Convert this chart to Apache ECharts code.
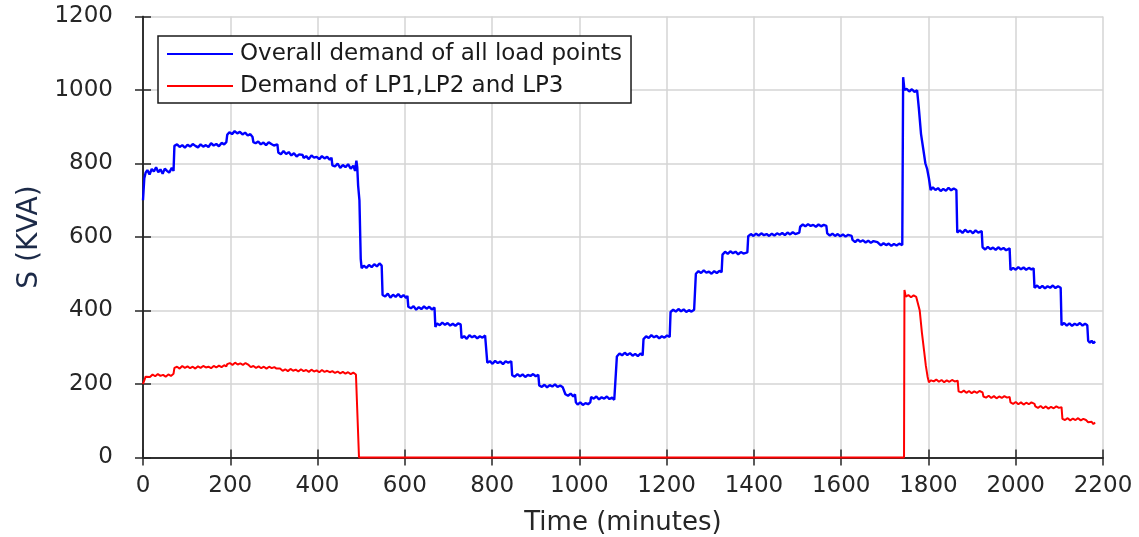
<!DOCTYPE html>
<html>
<head>
<meta charset="utf-8">
<script src="https://cdn.jsdelivr.net/npm/echarts@6/dist/echarts.min.js"></script>
<style>html,body{margin:0;padding:0;background:#fff}#c{width:1139px;height:537px}</style>
</head>
<body>
<div id="c"></div>
<script>
// ---------- data ----------
const xTicks = [0,200,400,600,800,1000,1200,1400,1600,1800,2000,2200];
const yTicks = [0,200,400,600,800,1000,1200];
const seriesNames = ['Overall demand of all load points', 'Demand of LP1,LP2 and LP3'];

// [minute, kVA]
const overallDemand = [
[0,700],[3,760],[6,775],[10,782],[15,770],[20,785],[25,778],[30,790],[35,776],[40,784],[45,772],[50,786],[55,780],[60,775],[66,788],[70,780],
[72,848],[78,852],[84,845],[90,850],[96,843],[102,851],[108,846],[114,853],[120,848],[126,844],[132,852],[138,846],[144,850],[150,845],[156,855],[162,849],[168,853],[174,847],[180,856],[186,852],[191,858],
[193,878],[198,885],[204,880],[210,888],[216,882],[222,886],[228,879],[234,884],[240,876],[246,880],[251,872],
[253,858],[258,855],[264,860],[270,852],[276,857],[282,850],[288,858],[294,853],[300,849],[308,852],
[310,830],[316,825],[322,834],[328,826],[334,831],[340,822],[346,828],[352,819],[358,825],[366,823],
[368,815],[374,820],[380,812],[386,822],[392,816],[398,818],[404,812],[410,820],[416,814],[422,818],[428,810],[432,816],
[434,795],[440,792],[446,800],[452,788],[458,796],[464,790],[470,798],[476,786],[482,794],[486,780],[489,808],[491,790],
[493,740],[496,700],[499,540],[501,515],
[506,522],[512,516],[518,524],[524,518],[530,526],[536,520],[542,528],[547,522],
[549,442],[555,438],[561,446],[567,435],[573,443],[579,437],[585,445],[591,436],[597,442],[603,434],[606,440],
[608,410],[614,406],[620,412],[626,402],[632,409],[638,404],[644,411],[650,405],[656,410],[662,403],[668,408],
[670,355],[674,365],[680,360],[686,367],[692,361],[698,366],[704,359],[710,364],[716,358],[722,365],[728,362],
[730,325],[736,330],[742,323],[748,333],[754,327],[760,331],[766,324],[772,330],[778,326],[784,332],[787,328],
[789,258],[795,262],[801,255],[807,263],[813,257],[819,261],[825,254],[831,262],[837,258],[844,262],
[846,224],[852,220],[858,227],[864,221],[870,226],[876,219],[882,225],[888,222],[894,227],[900,221],[906,225],
[908,196],[914,192],[920,198],[926,191],[932,197],[938,193],[944,199],[950,192],[956,196],[962,191],[966,195],
[968,172],[974,168],[980,174],[986,166],[990,172],
[992,150],[996,144],[1002,150],[1008,143],[1014,148],[1020,145],[1025,150],
[1027,165],[1033,160],[1039,166],[1045,158],[1051,164],[1057,160],[1063,166],[1069,159],[1075,163],[1080,157],[1084,162],
[1086,275],[1092,283],[1098,278],[1104,285],[1110,279],[1116,284],[1122,277],[1128,282],[1134,276],[1140,283],[1145,278],
[1147,322],[1153,330],[1159,325],[1165,333],[1171,327],[1177,331],[1183,324],[1189,330],[1195,326],[1201,332],[1207,328],
[1209,396],[1215,402],[1221,397],[1227,404],[1233,398],[1239,403],[1245,396],[1251,401],[1257,397],[1263,402],[1266,400],
[1267,500],[1273,507],[1279,502],[1285,509],[1291,503],[1297,506],[1303,500],[1309,507],[1315,502],[1321,508],[1326,504],
[1328,552],[1334,560],[1340,554],[1346,561],[1352,556],[1358,560],[1364,553],[1370,559],[1376,555],[1385,558],
[1387,602],[1393,608],[1399,603],[1405,609],[1411,604],[1417,610],[1423,605],[1429,608],[1435,603],[1441,609],[1447,604],[1453,610],[1459,606],[1465,611],[1471,605],[1477,612],[1483,607],[1489,613],[1495,608],[1504,612],
[1506,628],[1512,634],[1518,629],[1524,635],[1530,630],[1536,633],[1542,628],[1548,634],[1554,629],[1560,633],[1566,630],
[1568,610],[1574,604],[1580,609],[1586,603],[1592,608],[1598,602],[1604,607],[1610,601],[1616,606],[1624,603],
[1626,592],[1632,586],[1638,593],[1644,587],[1650,591],[1656,585],[1662,590],[1668,584],[1674,589],[1683,586],
[1685,582],[1691,577],[1697,583],[1703,578],[1709,582],[1715,576],[1721,581],[1727,577],[1733,582],[1740,578],
[1742,1035],[1745,1000],[1750,1003],[1756,996],[1762,1002],[1768,995],[1774,999],
[1778,950],[1783,880],[1788,840],[1793,800],[1797,785],[1801,760],[1805,728],
[1810,735],[1816,728],[1822,733],[1828,725],[1834,731],[1840,726],[1846,734],[1852,727],[1858,732],[1864,728],
[1866,612],[1872,618],[1878,611],[1884,620],[1890,613],[1896,617],[1902,610],[1908,618],[1914,612],[1922,616],
[1924,572],[1930,566],[1936,573],[1942,567],[1948,571],[1954,565],[1960,572],[1966,566],[1972,570],[1978,564],[1986,569],
[1988,510],[1994,516],[2000,511],[2006,518],[2012,512],[2018,517],[2024,511],[2030,516],[2036,512],[2041,515],
[2043,462],[2049,468],[2055,461],[2061,467],[2067,460],[2073,466],[2079,462],[2085,468],[2091,461],[2097,466],[2103,462],
[2105,360],[2111,366],[2117,359],[2123,365],[2129,358],[2135,364],[2141,360],[2147,366],[2153,359],[2159,364],[2164,360],
[2166,318],[2170,312],[2174,318],[2178,311],[2182,316]
];

const lpDemand = [
[0,200],[3,205],[6,220],[10,224],[16,219],[22,226],[28,221],[34,227],[40,222],[46,225],[52,220],[58,226],[64,222],[70,228],
[72,244],[78,247],[84,242],[90,249],[96,244],[102,248],[108,243],[114,247],[120,242],[126,248],[132,244],[138,249],[144,245],[150,247],[156,243],[162,249],[168,245],[174,250],[180,246],[186,251],[191,248],
[193,254],[199,257],[205,252],[211,258],[217,253],[223,256],[229,252],[235,257],[241,253],[245,255],
[247,246],[253,249],[259,244],[265,248],[271,243],[277,247],[283,242],[289,247],[295,243],[301,246],[306,242],
[308,239],[314,242],[320,236],[326,240],[332,235],[338,241],[344,236],[350,239],[356,234],[362,240],[368,235],[374,238],[380,233],[386,239],[392,234],[398,237],[404,232],[410,238],[416,233],[422,236],[428,232],[434,235],[440,230],[446,234],[452,229],[458,233],[464,228],[470,232],[476,227],[482,231],[488,226],[492,222],
[495,0],[1744,0],
[1745,456],[1748,438],[1754,442],[1760,436],[1766,441],[1772,437],[1776,440],
[1780,400],[1785,340],[1790,290],[1794,250],[1798,220],[1801,205],
[1806,210],[1812,207],[1818,212],[1824,206],[1830,211],[1836,205],[1842,210],[1848,206],[1854,211],[1860,207],[1867,209],
[1869,180],[1875,177],[1881,182],[1887,176],[1893,181],[1899,175],[1905,180],[1911,176],[1917,181],[1924,177],
[1926,166],[1932,163],[1938,168],[1944,162],[1950,167],[1956,161],[1962,166],[1968,162],[1974,167],[1980,163],[1986,165],
[1988,150],[1994,146],[2000,151],[2006,145],[2012,150],[2018,144],[2024,149],[2030,145],[2036,150],[2043,146],
[2045,139],[2051,135],[2057,140],[2063,134],[2069,139],[2075,133],[2081,138],[2087,134],[2093,139],[2099,135],[2105,137],
[2107,105],[2113,102],[2119,107],[2125,101],[2131,106],[2137,102],[2143,107],[2149,101],[2155,105],[2161,102],[2164,104],
[2166,96],[2170,92],[2174,97],[2178,91],[2182,95]
];

// ---------- chart ----------
const FONT = 'DejaVu Sans';
const chart = echarts.init(document.getElementById('c'), null, {renderer: 'canvas'});
const xMin = xTicks[0], xMax = xTicks[xTicks.length-1], xStep = xTicks[1]-xTicks[0];
const yMin = yTicks[0], yMax = yTicks[yTicks.length-1], yStep = yTicks[1]-yTicks[0];
const axisLine = {show: true, lineStyle: {color: '#262626', width: 1.5}};
const tick = {show: true, inside: true, length: 8, lineStyle: {color: '#262626', width: 1.5}};
const plain = v => String(v);
chart.setOption({
  animation: false,
  backgroundColor: '#ffffff',
  grid: {left: 143, right: 36, top: 16.5, bottom: 79.5, containLabel: false, outerBoundsMode: 'none'},
  legend: {
    orient: 'vertical',
    left: 158, top: 36,
    padding: [6, 9, 5, 9],
    itemGap: 8,
    itemWidth: 66, itemHeight: 2,
    icon: 'rect',
    borderColor: '#1a1a1a', borderWidth: 1.5,
    backgroundColor: '#ffffff',
    textStyle: {fontFamily: FONT, fontSize: 23, color: '#1a1a1a', lineHeight: 24, padding: [0,0,0,2]},
    data: seriesNames
  },
  xAxis: [{
    type: 'value', min: xMin, max: xMax, interval: xStep,
    name: 'Time (minutes)', nameLocation: 'middle', nameGap: 53,
    nameTextStyle: {fontFamily: FONT, fontSize: 26, color: '#262626'},
    axisLine: axisLine, axisTick: tick,
    axisLabel: {fontFamily: FONT, fontSize: 23, color: '#262626', margin: 17, formatter: plain},
    splitLine: {show: true, lineStyle: {color: '#d4d4d4', width: 1.5}}
  }, {
    type: 'value', position: 'top', min: xMin, max: xMax, interval: xStep,
    axisLine: axisLine, axisTick: tick, axisLabel: {show: false}, splitLine: {show: false}
  }],
  yAxis: [{
    type: 'value', min: yMin, max: yMax, interval: yStep,
    name: 'S (KVA)', nameLocation: 'middle', nameGap: 98,
    nameTextStyle: {fontFamily: FONT, fontSize: 28, color: '#1c2a48'},
    axisLine: axisLine, axisTick: tick,
    axisLabel: {fontFamily: FONT, fontSize: 23, color: '#262626', margin: 30, formatter: plain},
    splitLine: {show: true, lineStyle: {color: '#d4d4d4', width: 1.5}}
  }, {
    type: 'value', position: 'right', min: yMin, max: yMax, interval: yStep,
    axisLine: axisLine, axisTick: tick, axisLabel: {show: false}, splitLine: {show: false}
  }],
  series: [{
    name: seriesNames[0], type: 'line', data: overallDemand,
    showSymbol: false, symbol: 'none', clip: false, z: 3,
    itemStyle: {color: '#0000ff'},
    lineStyle: {color: '#0000ff', width: 2.4}
  }, {
    name: seriesNames[1], type: 'line', data: lpDemand,
    showSymbol: false, symbol: 'none', clip: false, z: 4,
    itemStyle: {color: '#ff0000'},
    lineStyle: {color: '#ff0000', width: 2}
  }]
});
</script>
</body>
</html>
